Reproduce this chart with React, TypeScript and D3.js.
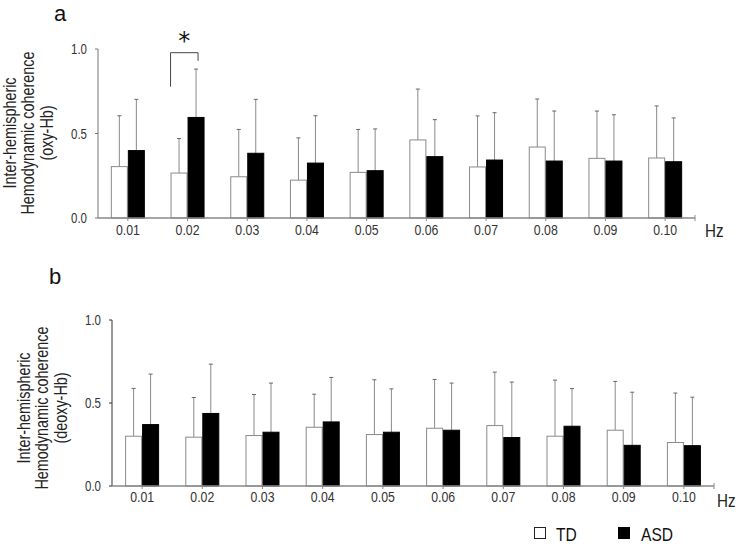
import React from 'react';
import * as d3 from 'd3';

const categories = ['0.01', '0.02', '0.03', '0.04', '0.05', '0.06', '0.07', '0.08', '0.09', '0.10'];
const groups = ['TD', 'ASD'];

// Panel a (oxy-Hb)
const oxyTD = [0.304, 0.266, 0.244, 0.224, 0.270, 0.462, 0.302, 0.420, 0.353, 0.355];
const oxyTDsd = [0.301, 0.204, 0.280, 0.250, 0.254, 0.301, 0.302, 0.284, 0.280, 0.308];
const oxyASD = [0.399, 0.595, 0.383, 0.325, 0.280, 0.363, 0.343, 0.337, 0.337, 0.333];
const oxyASDsd = [0.303, 0.286, 0.319, 0.280, 0.247, 0.219, 0.280, 0.296, 0.274, 0.259];

// Panel b (deoxy-Hb)
const deoxyTD = [0.300, 0.294, 0.304, 0.354, 0.310, 0.348, 0.364, 0.300, 0.336, 0.262];
const deoxyTDsd = [0.288, 0.239, 0.247, 0.199, 0.330, 0.294, 0.322, 0.338, 0.294, 0.298];
const deoxyASD = [0.370, 0.437, 0.324, 0.386, 0.324, 0.336, 0.292, 0.360, 0.245, 0.243];
const deoxyASDsd = [0.304, 0.297, 0.296, 0.268, 0.261, 0.284, 0.334, 0.227, 0.320, 0.292];

const yTicks = [0, 0.5, 1.0];

// significance bracket (panel a, 0.02)
const sigCategory = '0.02';
const bracketTop = 0.978;
const bracketLeftBottom = 0.777;
const bracketRightBottom = 0.93;

const FONT = "'Liberation Sans', Arial, sans-serif";
const BAR_W = 17;

type NTProps = {
  x: number; y: number; size: number; anchor?: string; rotate?: number; sx?: number;
  fill?: string; children: React.ReactNode;
};
function NText({ x, y, size, anchor = 'start', rotate = 0, sx = 0.82, fill = '#222', children }: NTProps) {
  return (
    <text transform={`translate(${x},${y}) rotate(${rotate}) scale(${sx},1)`} textAnchor={anchor}
      fontFamily={FONT} fontSize={size} fill={fill}>{children}</text>
  );
}

type PanelProps = {
  letter: string;
  letterX: number;
  letterY: number;
  x0: number;
  x1: number;
  yBottom: number;
  yTop: number;
  td: number[];
  tdSd: number[];
  asd: number[];
  asdSd: number[];
  labelLines: string[];
  labelXs: number[];
  labelY: number;
  yAxisColor: string;
  xLabelY: number;
  hzX: number;
  hzY: number;
  bracket?: boolean;
};

function Panel(p: PanelProps) {
  const x = d3.scaleBand<string>().domain(categories).range([p.x0, p.x1]).padding(0);
  const sub = d3.scaleBand<string>().domain(groups).range([-BAR_W, BAR_W]).padding(0);
  const y = d3.scaleLinear().domain([0, 1]).range([p.yBottom, p.yTop]);
  const cx = (c: string) => (x(c) as number) + x.bandwidth() / 2;
  const series = [
    { g: 'TD', vals: p.td, sd: p.tdSd },
    { g: 'ASD', vals: p.asd, sd: p.asdSd },
  ];
  const grey = '#8a8a8a';
  return (
    <g>
      <text x={p.letterX} y={p.letterY} fontFamily={FONT} fontSize={22} fill="#111">{p.letter}</text>
      {p.labelLines.map((t, i) => (
        <NText key={i} x={p.labelXs[i]} y={p.labelY} rotate={-90} anchor="middle" size={18} sx={0.8}>{t}</NText>
      ))}
      {/* error bars */}
      {series.map((s) => categories.map((c, i) => {
        const bx = cx(c) + (sub(s.g) as number) + sub.bandwidth() / 2;
        const top = y(s.vals[i] + s.sd[i]);
        return (
          <g key={s.g + c}>
            <line x1={bx} x2={bx} y1={y(s.vals[i])} y2={top} stroke={grey} strokeWidth={1} />
            <line x1={bx - 2} x2={bx + 2} y1={top} y2={top} stroke="#666" strokeWidth={1} />
          </g>
        );
      }))}
      {/* bars */}
      {series.map((s) => categories.map((c, i) => {
        const bx = cx(c) + (sub(s.g) as number);
        const isTD = s.g === 'TD';
        return (
          <rect key={'b' + s.g + c} x={bx + 0.5} y={y(s.vals[i])} width={sub.bandwidth() - 1}
            height={y(0) - y(s.vals[i])}
            fill={isTD ? '#fff' : '#000'} stroke={isTD ? grey : '#000'} strokeWidth={1} />
        );
      }))}
      {/* y axis */}
      <line x1={p.x0} x2={p.x0} y1={y(0)} y2={y(1)} stroke={p.yAxisColor} strokeWidth={1} />
      {yTicks.map((t) => (
        <g key={t}>
          <line x1={p.x0 - 3} x2={p.x0} y1={y(t)} y2={y(t)} stroke={p.yAxisColor} strokeWidth={1} />
          <NText x={p.x0 - 11} y={y(t) + 5} anchor="end" size={14} fill="#333">{t.toFixed(1)}</NText>
        </g>
      ))}
      {/* x axis */}
      <line x1={p.x0} x2={p.x1} y1={y(0)} y2={y(0)} stroke="#888" strokeWidth={1.5} />
      <line x1={p.x1} x2={p.x1} y1={y(0) - 3} y2={y(0) + 3} stroke="#888" strokeWidth={1} />
      {categories.map((c) => (
        <g key={'t' + c}>
          <line x1={cx(c)} x2={cx(c)} y1={y(0)} y2={y(0) + 3} stroke="#888" strokeWidth={1} />
          <NText x={cx(c)} y={p.xLabelY} anchor="middle" size={15} fill="#333">{c}</NText>
        </g>
      ))}
      <NText x={p.hzX} y={p.hzY} size={19} sx={0.8}>Hz</NText>
      {p.bracket && (() => {
        const left = cx(sigCategory) + (sub('TD') as number);
        const right = cx(sigCategory) + (sub('ASD') as number) + sub.bandwidth() / 2 + 2;
        return (
          <g>
            <path d={`M${left},${y(bracketLeftBottom)}V${y(bracketTop)}H${right}V${y(bracketRightBottom)}`}
              fill="none" stroke="#444" strokeWidth={1} />
            <text x={(left + right) / 2} y={y(bracketTop) - 4} textAnchor="middle"
              fontFamily="'DejaVu Sans', sans-serif" fontSize={24} fill="#111">*</text>
          </g>
        );
      })()}
    </g>
  );
}

export default function App() {
  return (
    <svg width={738} height={555} style={{ position: 'absolute', left: 0, top: 0, background: '#fff' }}>
      <rect width={738} height={555} fill="#fff" />
      <Panel letter="a" letterX={54} letterY={21} x0={98} x1={695} yBottom={218} yTop={49}
        td={oxyTD} tdSd={oxyTDsd} asd={oxyASD} asdSd={oxyASDsd}
        labelLines={['Inter-hemispheric', 'Hemodynamic  coherence', '(oxy-Hb)']}
        labelXs={[16, 34, 53]} labelY={133} yAxisColor="#777" xLabelY={235}
        hzX={705} hzY={237} bracket />
      <Panel letter="b" letterX={49} letterY={284} x0={112} x1={714} yBottom={486} yTop={320}
        td={deoxyTD} tdSd={deoxyTDsd} asd={deoxyASD} asdSd={deoxyASDsd}
        labelLines={['Inter-hemispheric', 'Hemodynamic  coherence', '(deoxy-Hb)']}
        labelXs={[30, 48, 67]} labelY={408} yAxisColor="#333" xLabelY={502}
        hzX={717} hzY={507} />
      {/* legend */}
      <rect x={534.5} y={527.5} width={11} height={11} fill="#fff" stroke="#222" strokeWidth={1} />
      <NText x={556} y={541} size={19} fill="#111">TD</NText>
      <rect x={618} y={527} width={12} height={12} fill="#000" />
      <NText x={641} y={541} size={19} fill="#111">ASD</NText>
    </svg>
  );
}
